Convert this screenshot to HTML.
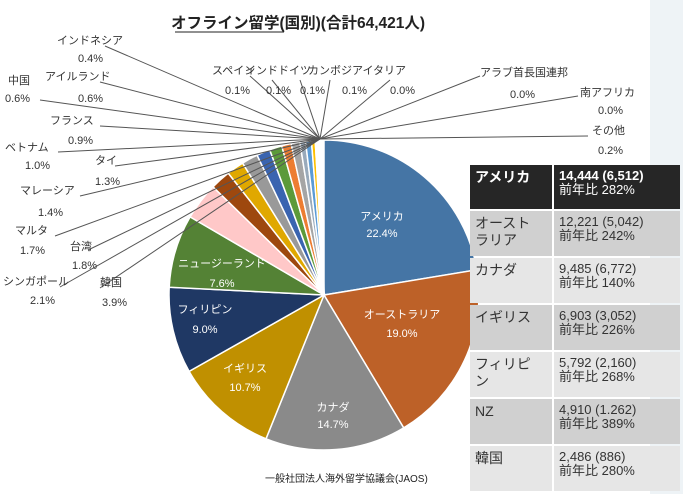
<!DOCTYPE html>
<html><head><meta charset="utf-8"><style>
body{margin:0;width:683px;height:494px;overflow:hidden;background:#fff;font-family:"Liberation Serif","Noto Serif CJK SC","Noto Sans CJK JP",serif;}
#bg{position:absolute;left:650px;top:0;width:33px;height:494px;background:#eef3f6}
svg{position:absolute;left:0;top:0}
.t{position:absolute;left:470px;width:210px;font-family:"Liberation Sans","Noto Sans CJK JP",sans-serif;font-size:13px;color:#333;line-height:14px}
.r{position:absolute;left:0;width:210px;display:flex}
.a{width:82px;padding:4px 5px;box-sizing:border-box;font-size:14px;line-height:17px}
.b{flex:1;padding:4px 5px;border-left:2px solid #fff;box-sizing:border-box}
</style></head><body>
<div id="bg"></div>
<svg width="683" height="494" id="s" font-family="Liberation Serif, Noto Sans CJK JP, serif">
<text x="298" y="28" font-size="15.5" font-weight="bold" text-anchor="middle" font-family="Liberation Sans, Noto Sans CJK JP, sans-serif" fill="#222">オフライン留学(国別)(合計64,421人)</text>
<line x1="175" y1="32" x2="284" y2="32" stroke="#222" stroke-width="1"/>
<g id="pie"></g>
<g id="lines" stroke="#555" stroke-width="1"></g>
<g font-size="11" fill="#333" font-family="Liberation Sans, Noto Sans CJK JP, sans-serif">
<text x="57" y="44">インドネシア</text><text x="78" y="62">0.4%</text>
<text x="8" y="84">中国</text><text x="5" y="102">0.6%</text>
<text x="45" y="80">アイルランド</text><text x="78" y="102">0.6%</text>
<text x="50" y="124">フランス</text><text x="68" y="144">0.9%</text>
<text x="5" y="151">ベトナム</text><text x="25" y="169">1.0%</text>
<text x="95" y="164">タイ</text><text x="95" y="185">1.3%</text>
<text x="20" y="194">マレーシア</text><text x="38" y="216">1.4%</text>
<text x="15" y="234">マルタ</text><text x="20" y="254">1.7%</text>
<text x="70" y="250">台湾</text><text x="72" y="269">1.8%</text>
<text x="3" y="285">シンガポール</text><text x="30" y="304">2.1%</text>
<text x="100" y="286">韓国</text><text x="102" y="306">3.9%</text>
<text x="212" y="74">スペイン</text><text x="225" y="94">0.1%</text>
<text x="245" y="74">インドドイツ</text><text x="266" y="94">0.1%</text><text x="300" y="94">0.1%</text>
<text x="308" y="74">カンボジアイタリア</text><text x="342" y="94">0.1%</text><text x="390" y="94">0.0%</text>
<text x="480" y="76">アラブ首長国連邦</text><text x="510" y="98">0.0%</text>
<text x="580" y="96">南アフリカ</text><text x="598" y="114">0.0%</text>
<text x="592" y="134">その他</text><text x="598" y="154">0.2%</text>
<text x="265" y="482" font-size="10" fill="#222">一般社団法人海外留学協議会(JAOS)</text>
</g>
<g id="lab" font-size="11" fill="#fff" text-anchor="middle" font-family="Liberation Sans, Noto Sans CJK JP, sans-serif">
<text x="382" y="220">アメリカ</text><text x="382" y="237">22.4%</text>
<text x="402" y="318">オーストラリア</text><text x="402" y="337">19.0%</text>
<text x="333" y="411">カナダ</text><text x="333" y="428">14.7%</text>
<text x="245" y="372">イギリス</text><text x="245" y="391">10.7%</text>
<text x="205" y="313">フィリピン</text><text x="205" y="333">9.0%</text>
<text x="222" y="267">ニュージーランド</text><text x="222" y="287">7.6%</text>
</g>
</svg>
<div class="t" style="top:165px">
<div class="r" style="top:0;height:44px;background:#262626;color:#fff;font-weight:bold"><div class="a">アメリカ</div><div class="b">14,444 (6,512)<br><span style="font-weight:normal">前年比 282%</span></div></div>
<div class="r" style="top:46px;height:45px;background:#d0d0d0"><div class="a">オースト<br>ラリア</div><div class="b">12,221 (5,042)<br>前年比 242%</div></div>
<div class="r" style="top:93px;height:45px;background:#e6e6e6"><div class="a">カナダ</div><div class="b">9,485 (6,772)<br>前年比 140%</div></div>
<div class="r" style="top:140px;height:45px;background:#d0d0d0"><div class="a">イギリス</div><div class="b">6,903 (3,052)<br>前年比 226%</div></div>
<div class="r" style="top:187px;height:45px;background:#e6e6e6"><div class="a">フィリピ<br>ン</div><div class="b">5,792 (2,160)<br>前年比 268%</div></div>
<div class="r" style="top:234px;height:45px;background:#d0d0d0"><div class="a">NZ</div><div class="b">4,910 (1.262)<br>前年比 389%</div></div>
<div class="r" style="top:281px;height:45px;background:#e6e6e6"><div class="a">韓国</div><div class="b">2,486 (886)<br>前年比 280%</div></div>
</div>
<script>
var d=[[22.4,"#4575a5"],[19,"#bd6128"],[14.7,"#8a8a8a"],[10.7,"#c09000"],[9,"#1f3864"],[7.6,"#548235"],[3.9,"#ffc8c8"],[2.1,"#9e480e"],[1.8,"#e0a800"],[1.7,"#999"],[1.4,"#3a64b0"],[1.3,"#5c9a3a"],[1.0,"#ed7d31"],[0.9,"#a5a5a5"],[0.6,"#9ab"],[0.6,"#5b9bd5"],[0.4,"#ffc000"],[0.1,"#4472c4"],[0.1,"#70ad47"],[0.1,"#264478"],[0.1,"#636363"],[0.2,"#fff"]];
var cx=324,cy=295,r=155,a=0,h="";
d.forEach(function(s){var a2=a+s[0]*3.6;var p=function(t){t=t*Math.PI/180;return (cx+r*Math.sin(t)).toFixed(1)+","+(cy-r*Math.cos(t)).toFixed(1)};
h+='<path d="M'+cx+','+cy+' L'+p(a)+' A'+r+','+r+' 0 '+(a2-a>180?1:0)+',1 '+p(a2)+' Z" fill="'+s[1]+'" stroke="#fff" stroke-width="1.5"/>';a=a2;});
document.getElementById("pie").innerHTML=h;
var L=[[105,46],[40,100],[100,82],[100,126],[58,152],[115,166],[80,196],[55,236],[88,250],[60,287],[100,288],[250,76],[272,80],[300,80],[330,80],[390,80],[480,76],[578,96],[588,136]],l="";
L.forEach(function(q){l+='<line x1="'+q[0]+'" y1="'+q[1]+'" x2="320" y2="139"/>'});
document.getElementById("lines").innerHTML=l;
</script>
</body></html>
